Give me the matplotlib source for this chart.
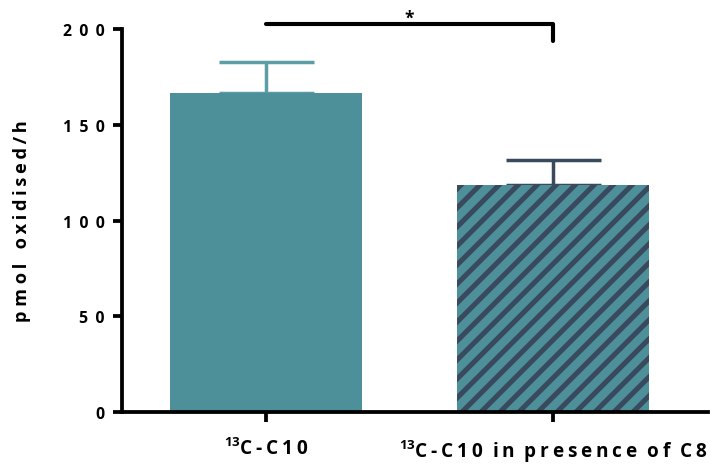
import matplotlib.pyplot as plt

plt.rcParams['font.family'] = ['Open Sans', 'DejaVu Sans']
plt.rcParams['font.weight'] = 'bold'
plt.rcParams['mathtext.fontset'] = 'custom'
plt.rcParams['mathtext.rm'] = 'Open Sans'
plt.rcParams['mathtext.bf'] = 'Open Sans:bold'
plt.rcParams['mathtext.default'] = 'regular'
plt.rcParams['hatch.linewidth'] = 3.2


def spaced(s, word_gap='  '):
    # letter-spaced text: thin space between characters, wider gap between words
    return word_gap.join('\u2009'.join(w) for w in s.split(' '))


groups = ['C-C10', 'C-C10 in presence of C8']
means = [166.5, 118.5]
sem = [16.5, 13.0]
y_ticks = [0, 50, 100, 150, 200]
y_tick_labels = ['0', '50', '100', '150', '200']
star_y = [202.6, 193.8]  # bracket height, right drop end

teal = '#4E9099'
dark = '#3A4A5E'
err_teal = '#5C9DA6'

fig = plt.figure(figsize=(711 / 114, 465 / 114), dpi=114)
ax = fig.add_axes([0.1716, 0.1118, 0.8242, 0.8237])

x = [0, 1]
ax.bar(x[0], means[0], width=0.67, color=teal, linewidth=0, zorder=2)
ax.bar(x[1], means[1], width=0.67, color=teal, edgecolor=dark, hatch='//', linewidth=0, zorder=2)

ax.errorbar(x[0], means[0], yerr=[[0], [sem[0]]], fmt='none', ecolor=err_teal,
            elinewidth=2.2, capsize=30, capthick=2.2, zorder=1)
ax.errorbar(x[1], means[1], yerr=[[0], [sem[1]]], fmt='none', ecolor=dark,
            elinewidth=2.2, capsize=30, capthick=2.2, zorder=1)

# significance bracket
ax.plot([x[0], x[1], x[1]], [star_y[0], star_y[0], star_y[1]], color='black', lw=2.6,
        solid_capstyle='round', solid_joinstyle='round', clip_on=False)
ax.text((x[0] + x[1]) / 2, star_y[0] - 1.5, '*', ha='center', va='bottom', fontsize=11,
        color='black', fontweight='bold')

ax.set_xlim(-0.502, 1.54)
ax.set_ylim(0, 200)
ax.set_yticks(y_ticks)
ax.set_yticklabels([' \u2009'.join(t) for t in y_tick_labels], fontsize=10, fontweight='bold')
ax.set_xticks(x)
ax.set_xticklabels(['$^{13}$' + spaced(g) for g in groups], fontsize=12, fontweight='bold')
ax.set_ylabel('p m ' + spaced('ol oxidised/h', word_gap='   '), fontsize=11.5,
              fontweight='bold', labelpad=20)

for side in ['top', 'right']:
    ax.spines[side].set_visible(False)
for side in ['left', 'bottom']:
    ax.spines[side].set_linewidth(2.4)
ax.tick_params(axis='both', width=2.4, length=6, pad=5)
ax.tick_params(axis='x', pad=10)

fig.savefig('out.png', dpi=114)
